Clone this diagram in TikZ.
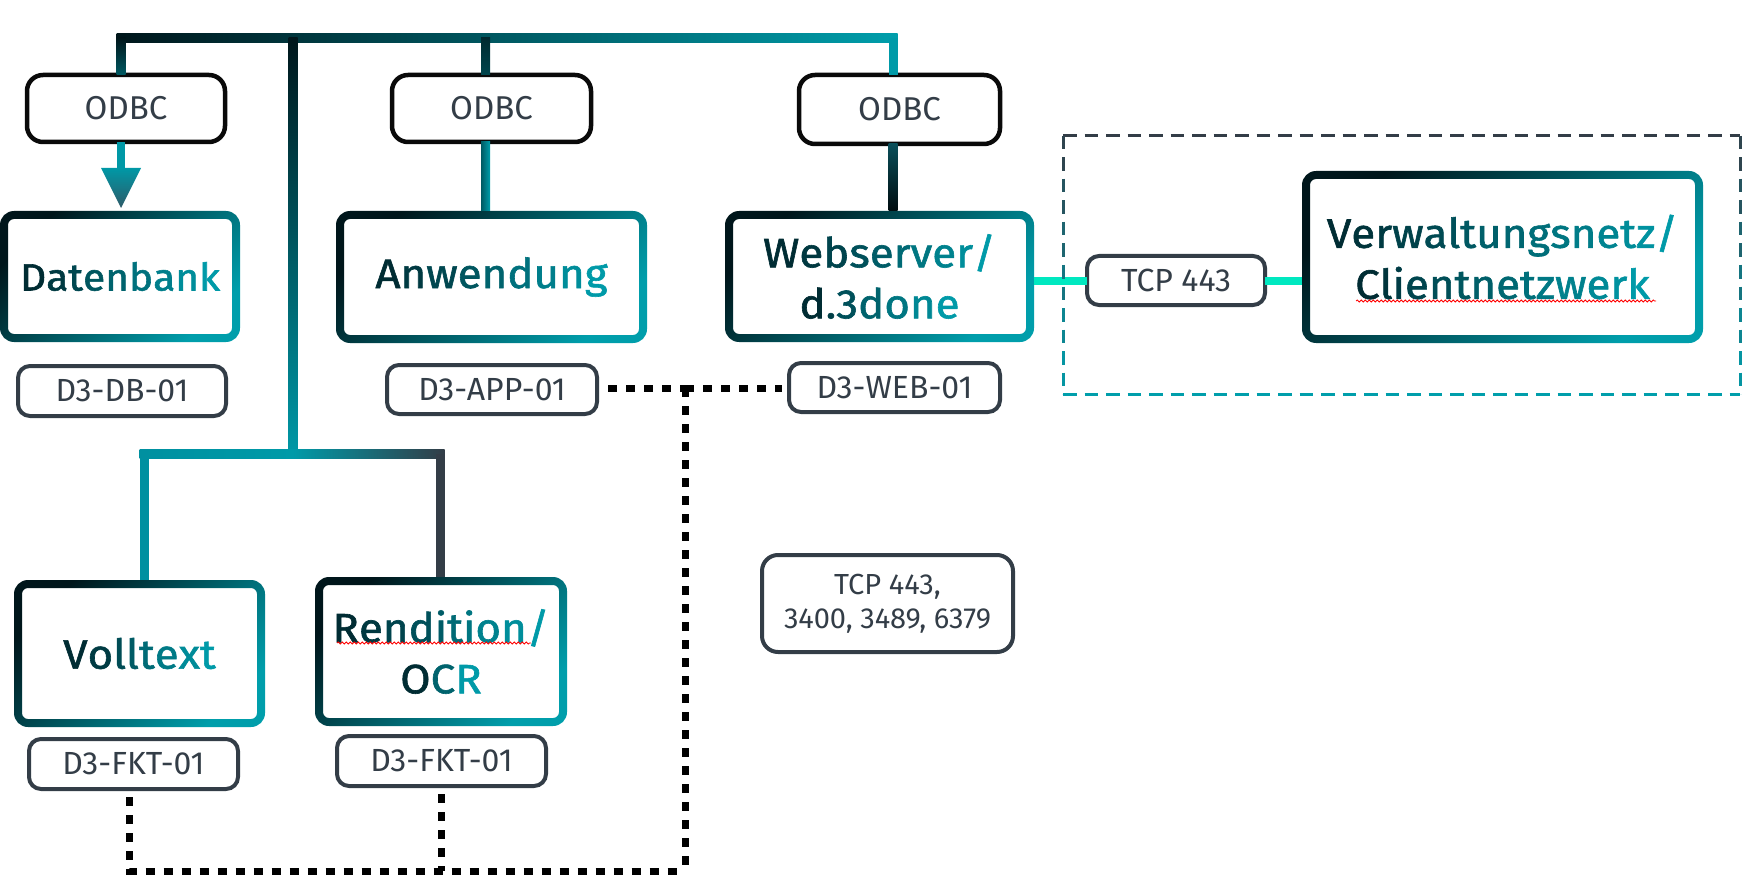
\documentclass[tikz,border=0pt]{standalone}
\usepackage{fontspec}
\setmainfont{Fira Sans}
\newfontfamily\bigf[FakeBold=1.5,FakeStretch=1.07]{Fira Sans}
\usetikzlibrary{calc,decorations.pathmorphing}
\definecolor{gdark}{HTML}{00161B}
\definecolor{gteal}{HTML}{009EAB}
\definecolor{tdark}{HTML}{002C33}
\definecolor{tteal}{HTML}{009AA8}
\definecolor{lgray}{HTML}{333D47}
\definecolor{mint}{HTML}{00E8C0}
\definecolor{obk}{HTML}{0A0A0A}
\definecolor{shaftteal}{HTML}{0098A6}
\definecolor{headbot}{HTML}{2E5A68}
\definecolor{midteal}{HTML}{005A63}
\definecolor{lowteal}{HTML}{0090A0}
\definecolor{odbctwo}{HTML}{002A30}
\definecolor{odbctwob}{HTML}{00454D}
\definecolor{webtop}{HTML}{0A4F5A}
\definecolor{webbot}{HTML}{000C0F}

\ExplSyntaxOn
\NewDocumentCommand\gtext{m}{
  \int_set:Nn \l_tmpa_int {\tl_count:n {#1}}
  \int_zero:N \l_tmpb_int
  \tl_map_inline:nn {#1} {
    \tl_set:Nx \l_tmpa_tl {\int_eval:n{ (\l_tmpb_int)*100/(\l_tmpa_int-1) }}
    \int_incr:N \l_tmpb_int
    \color{tteal!\l_tmpa_tl!tdark}##1
  }
}
\ExplSyntaxOff

\newcommand\ringbox[1]{%
  \shade[ring] [rounded corners=7pt] (#1.north west) rectangle (#1.south east)
    [rounded corners=3pt] ([shift={(4pt,-4pt)}]#1.north west) rectangle ([shift={(-4pt,4pt)}]#1.south east);}

\tikzset{
  big/.style={inner sep=0, outer sep=0, align=center, font=\bigf\fontsize{20.5}{25.5}\selectfont},
  odbc/.style={draw=obk, line width=2.25pt, rounded corners=8pt, inner sep=0, outer sep=0, text=lgray, font=\fontsize{16.5}{19}\selectfont},
  lab/.style={draw=lgray, line width=2pt, rounded corners=6pt, inner sep=0, outer sep=0, text=lgray, font=\fontsize{16}{19}\selectfont},
  ring/.style={even odd rule, top color=gdark, bottom color=gteal, shading angle=45},
  dots/.style={black, line width=3.5pt, dash pattern=on 4.5pt off 4.5pt},
  wavy/.style={red, line width=0.4pt, decorate, decoration={snake, amplitude=0.5pt, segment length=2pt}},
}

\begin{document}
\begin{tikzpicture}[x=0.5pt, y=-0.5pt]
\useasboundingbox (0,0) rectangle (1755,893);

% big boxes
\node[big, font=\bigf\fontsize{19}{25.5}\selectfont, minimum width=120pt, minimum height=65.5pt] (db) at (120,276.5) {\gtext{Datenbank}};
\node[big, minimum width=155.5pt, minimum height=66pt] (app) at (491.5,277) {\gtext{Anwendung}};
\node[big, minimum width=154.5pt, minimum height=65.5pt] (web) at (879.5,276.5) {\gtext{Webserver/}\\\gtext{d.3done}};
\node[big, minimum width=200.5pt, minimum height=86pt] (verw) at (1502.5,257) {\gtext{Verwaltungsnetz/}\\\gtext{Clientnetzwerk}};
\node[big, minimum width=125.5pt, minimum height=73.5pt] (vt) at (139.5,653.5) {\gtext{Volltext}};
\node[big, minimum width=126pt, minimum height=74.5pt] (rend) at (441,651.5) {\gtext{Rendition/}\\\gtext{OCR}};
\foreach \n in {db,app,web,verw,vt,rend}{\ringbox{\n}}

% ODBC boxes
\node[odbc, minimum width=99pt, minimum height=33.5pt] (odbc1) at (126,108.5) {ODBC};
\node[odbc, minimum width=99.5pt, minimum height=33.5pt] (odbc2) at (491.5,108.5) {ODBC};
\node[odbc, minimum width=100.5pt, minimum height=34.5pt] (odbc3) at (899.5,109.5) {ODBC};

% labels
\node[lab, minimum width=104pt, minimum height=25pt] (lbdb) at (122,391) {D3-DB-01};
\node[lab, minimum width=105pt, minimum height=24.5pt] (lbapp) at (492,389.5) {D3-APP-01};
\node[lab, minimum width=105.5pt, minimum height=24.5pt] (lbweb) at (894.5,387.5) {D3-WEB-01};
\node[lab, minimum width=104.5pt, minimum height=25pt] (lbfa) at (133.5,764) {D3-FKT-01};
\node[lab, minimum width=104.5pt, minimum height=25pt] (lbfb) at (441.5,761) {D3-FKT-01};
\node[lab, minimum width=89pt, minimum height=24.5pt] (tcp) at (1176,280.5) {TCP 443};
\node[lab, minimum width=125.5pt, minimum height=48.5pt, rounded corners=8pt, font=\fontsize{14.5}{17}\selectfont, align=center] (tcpm) at (887.5,603.5) {TCP 443,\\3400, 3489, 6379};

% junctions
\coordinate (tl) at (121,38);
\coordinate (tk) at (293,38);
\coordinate (t2) at (485.5,38);
\coordinate (tr) at (893,38);
\coordinate (lk) at (293,454);
\coordinate (ll) at (144,454);
\coordinate (lr) at (440,454);

% top bus
\shade[left color=gdark, right color=gteal] ($(tl)+(-4.5,-4.5)$) rectangle ($(tr)+(4.5,4.5)$);
% to ODBC1 and arrow to Datenbank
\shade[top color=gdark, bottom color=midteal] ($(tl)+(-4.5,0)$) rectangle ($(tl |- odbc1.north)+(4.5,0)$);
\fill[shaftteal] ($(tl |- odbc1.south)+(-4,0)$) rectangle ($(tl |- db.north)+(4,-42)$);
\shade[top color=shaftteal, bottom color=headbot] ($(tl |- db.north)+(-20,-43)$) -- ($(tl |- db.north)+(20,-43)$) -- ($(tl |- db.north)+(0,-3)$) -- cycle;
% trunk
\shade[top color=gdark, bottom color=shaftteal] ($(tk)+(-4.5,0)$) rectangle ($(lk)+(4.5,0)$);
% lower bus
\shade[left color=lowteal, right color=tteal] ($(ll)+(-4.5,-4.5)$) rectangle ($(lk)+(0,4.5)$);
\shade[left color=tteal, right color=lgray] ($(lk)+(0,-4.5)$) rectangle ($(lr)+(4.5,4.5)$);
\fill[lowteal] ($(ll)+(-4.5,0)$) rectangle ($(ll |- vt.north)+(4.5,0)$);
\fill[lgray] ($(lr)+(-4.5,0)$) rectangle ($(lr |- rend.north)+(4.5,0)$);
% ODBC2
\shade[top color=odbctwo, bottom color=odbctwob] ($(t2)+(-4.5,0)$) rectangle ($(t2 |- odbc2.north)+(4.5,0)$);
\shade[left color=midteal, right color=gteal] ($(t2 |- odbc2.south)+(-4.5,0)$) rectangle ($(t2 |- app.north)+(4.5,0)$);
% ODBC3
\fill[tteal] ($(tr)+(-4.5,0)$) rectangle ($(tr |- odbc3.north)+(4.5,0)$);
\shade[top color=webtop, bottom color=webbot] ($(tr |- odbc3.south)+(-4.5,0)$) rectangle ($(tr |- web.north)+(4.5,0)$);

% mint links
\draw[mint, line width=4pt] (tcp.west) -- (tcp.west -| web.east);
\draw[mint, line width=4pt] (tcp.east) -- (tcp.east -| verw.west);

% dotted links
\coordinate (dj) at (685,388);
\coordinate (dbr) at (685,871);
\draw[dots] ([xshift=5.5pt]lbapp.east |- dj) -- (dj);
\draw[dots] (dj) -- ([xshift=-3.5pt]lbweb.west |- dj);
\draw[dots] (dj) -- (dbr);
\draw[dots] ([xshift=-2pt,yshift=-4pt]lbfa.south) |- (dbr);
\draw[dots] ([yshift=-4pt]lbfb.south) -- (lbfb.south |- dbr);

% dashed zone
\draw[lgray, line width=1.5pt, dash pattern=on 6.75pt off 4pt] (1063,136) -- (1740,136);
\draw[gteal, line width=1.5pt, dash pattern=on 6.75pt off 4pt] (1063,394) -- (1740,394);
\foreach \k in {0,...,5}{
  \pgfmathtruncatemacro\p{(\k+0.5)*100/6}
  \draw[color=gteal!\p!lgray, line width=1.5pt, dash pattern=on 6.75pt off 4pt] (1063,{136+43*\k}) -- (1063,{179+43*\k});
  \draw[color=gteal!\p!lgray, line width=1.5pt, dash pattern=on 6.75pt off 4pt] (1740,{136+43*\k}) -- (1740,{179+43*\k});
}

% spell-check underlines
\draw[wavy] (1356,301) -- (1656,301);
\draw[wavy] (337,643) -- (531,643);
\end{tikzpicture}
\end{document}
